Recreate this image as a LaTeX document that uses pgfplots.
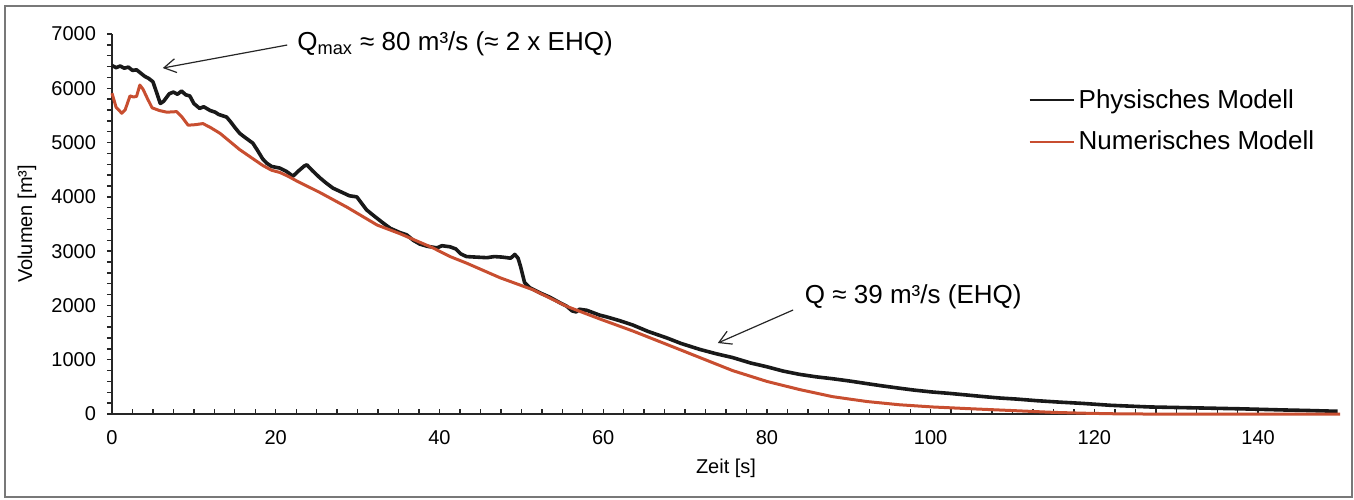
\documentclass[border=0pt]{standalone}
\usepackage{pgfplots}
\pgfplotsset{compat=1.18}
\usetikzlibrary{arrows.meta}
\usepackage{fontspec}
\setmainfont{Liberation Sans}
\definecolor{phys}{RGB}{25,25,25}
\definecolor{num}{RGB}{200,78,48}
\definecolor{frame}{RGB}{120,120,120}
\begin{document}
\begin{tikzpicture}
\useasboundingbox (-56pt,-42.5pt) rectangle (621pt,207pt);
\begin{axis}[
  at={(0pt,0pt)}, anchor=south west,
  scale only axis, width=614pt, height=190pt,
  xmin=0, xmax=150, ymin=0, ymax=7000,
  axis x line=bottom, axis y line=left,
  axis line style={-, line width=0.8pt, black!85},
  xtick={0,20,...,140}, minor x tick num=7,
  ytick={0,1000,...,7000}, minor y tick num=4,
  tick align=inside,
  major tick length=2.5pt, minor tick length=2.5pt,
  tick style={black!85, line width=0.7pt},
  ytick style={xshift=-2.5pt},
  /pgf/number format/assume math mode=true,
  /pgf/number format/1000 sep={},
  ticklabel style={font=\fontsize{10}{12}\selectfont},
  xticklabel style={yshift=-4.5pt},
  yticklabel style={xshift=-4.5pt},
  xlabel={Zeit [s]}, ylabel={Volumen [m³]},
  label style={font=\fontsize{10}{12}\selectfont},
  xlabel style={at={(axis description cs:0.5,0)}, anchor=center, yshift=-27pt},
  ylabel style={at={(axis description cs:0,0.5)}, anchor=center, yshift=42.5pt},
  legend style={at={(rel axis cs:0.746,0.771)}, anchor=west, draw=none, fill=none,
    inner sep=0pt, font=\fontsize{13}{15}\selectfont, row sep=6pt},
  legend cell align=left,
  legend image code/.code={\draw[#1, line width=1.1pt] (0pt,0pt) -- (22pt,0pt);},
  clip=false,
]
\addplot[phys, line width=1.8pt, line join=round] coordinates {
(0,6420) (0.5,6380) (1,6410) (1.5,6370) (2,6390) (2.5,6330) (3,6340) (3.5,6280)
(4,6220) (4.5,6180) (5,6120) (5.5,5900) (5.9,5720) (6.3,5760) (7,5900) (7.5,5930)
(8,5890) (8.5,5950) (9,5880) (9.5,5860) (10,5720) (10.7,5630) (11.2,5660) (12,5590)
(12.6,5560) (13,5520) (14,5470) (14.5,5380) (15,5280) (15.6,5170) (16.2,5100)
(17.2,4990) (17.8,4850) (18.4,4700) (18.9,4620) (19.5,4560) (20.5,4530) (21.3,4470)
(22.1,4380) (22.8,4480) (23.5,4570) (23.8,4590) (24.5,4480) (25.4,4350) (26.2,4250)
(27,4160) (28,4090) (29,4020) (29.9,4000) (30.5,3880) (31.1,3760) (32,3650)
(33.1,3520) (34,3420) (35.2,3340) (36,3300) (36.8,3200) (37.6,3130) (38.5,3090)
(39.7,3060) (40.3,3100) (41.3,3080) (42,3040) (42.6,2950) (43.3,2900) (44.5,2890)
(45.8,2880) (46.7,2900) (47.7,2890) (48.7,2870) (49.2,2940) (49.6,2870) (49.9,2720)
(50.4,2420) (51,2330) (52.3,2230) (53.5,2150) (54.7,2050) (55.5,1990) (56.2,1900)
(56.7,1880) (57.1,1930) (58,1910) (59.6,1820) (60.4,1790) (62,1720) (63.6,1640)
(65.5,1520) (67.8,1400) (69.5,1300) (71.8,1190) (73.8,1110) (75.8,1040) (78,940)
(80,870) (82,790) (84,730) (86,685) (88,650) (90,610) (92.2,560)
(94,520) (96.2,475) (98,440) (100.2,405) (102.3,380) (104.4,350) (106.5,320)
(108.4,295) (110.5,275) (113,245) (115.6,220) (118.6,195) (122,160) (126.7,130)
(130,120) (134.9,105) (138,95) (143,75) (146,65) (149.7,50)
};
\addlegendentry{Physisches Modell}
\addplot[num, line width=1.5pt, line join=round] coordinates {
(0,5910) (0.5,5650) (1.2,5540) (1.6,5600) (2.2,5860) (2.6,5840) (3,5850) (3.4,6060)
(3.8,5980) (4.3,5820) (4.9,5640) (5.8,5590) (6.7,5560) (7.9,5570) (8.5,5480)
(9.3,5320) (10.2,5330) (11.1,5350) (12,5280) (13.2,5170) (15.6,4870) (18.4,4580)
(19.5,4490) (20.5,4450) (21.5,4380) (22.6,4290) (25.4,4080) (28.7,3810) (32.4,3480)
(35.2,3320) (39.2,3060) (41.3,2900) (43.3,2780) (47.4,2510) (51.4,2290) (55.6,1980)
(59.6,1750) (63.6,1530) (67.8,1280) (71.8,1040) (75.8,800) (80,600) (84,450)
(88,320) (92.2,230) (96.2,170) (100.2,130) (104.4,100) (110.5,60) (115,30)
(118.6,15) (122,5) (126,0) (150,0)
};
\addlegendentry{Numerisches Modell}
\draw[-{Straight Barb[length=6pt,width=7pt]}, line width=0.6pt, black!85] (axis cs:21.4,6797) -- (axis cs:6.2,6373);
\node[anchor=west, inner sep=0pt, font=\fontsize{13}{15}\selectfont] at (axis cs:22.6,6815)
  {Q\textsubscript{max} ≈ 80 m³/s (≈ 2 x EHQ)};
\draw[-{Straight Barb[length=6pt,width=7pt]}, line width=0.6pt, black!85] (axis cs:83.2,1916) -- (axis cs:74.0,1308);
\node[anchor=west, inner sep=0pt, font=\fontsize{13}{15}\selectfont] at (axis cs:84.6,2155)
  {Q ≈ 39 m³/s (EHQ)};
\end{axis}
\draw[frame, line width=1pt] (-53.5pt,-41.5pt) rectangle (620pt,204pt);
\end{tikzpicture}
\end{document}
